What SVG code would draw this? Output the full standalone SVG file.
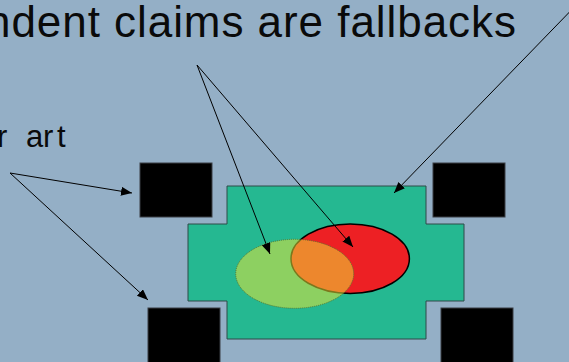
<svg xmlns="http://www.w3.org/2000/svg" width="569" height="362" viewBox="0 0 569 362">
  <style>
    .label { font-family: "Liberation Sans", Arial, sans-serif; fill: #0a0a0a; }
    .block { fill: #000000; stroke: #3a3f44; stroke-width: 1; }
    .conn { stroke: #000000; stroke-width: 1; fill: none; marker-end: url(#arrow); }
  </style>
  <defs>
    <marker id="arrow" markerUnits="userSpaceOnUse" markerWidth="12" markerHeight="10" refX="11" refY="4.5" orient="auto">
      <path d="M0,0 L11,4.5 L0,9 Z" fill="#000000"/>
    </marker>
  </defs>
  <rect x="0" y="0" width="569" height="362" fill="#94afc6"/>

  <g id="title-text">
    <text class="label" x="-14" y="37" font-size="44" textLength="530" lengthAdjust="spacing">ndent claims are fallbacks</text>
  </g>
  <g id="prior-art-text">
    <text class="label" x="-3 9 26 43 57" y="147" font-size="31">r art</text>
  </g>

  <g id="claim-area">
    <polygon points="227,186 426,186 426,224 464,224 464,301 426,301 426,339 227,339 227,301 188,301 188,224 227,224" fill="#25b891" stroke="#2f4a48" stroke-width="1"/>
  </g>

  <g id="prior-art-tl"><rect class="block" x="140" y="163" width="72" height="54"/></g>
  <g id="prior-art-tr"><rect class="block" x="433" y="163" width="72" height="54"/></g>
  <g id="prior-art-bl"><rect class="block" x="148" y="308" width="72" height="60"/></g>
  <g id="prior-art-br"><rect class="block" x="441" y="308" width="72" height="60"/></g>

  <g id="red-claim">
    <ellipse cx="350.2" cy="258.7" rx="59.2" ry="34.7" fill="#ed2024" stroke="#000000" stroke-width="1.5"/>
  </g>
  <g id="green-claim">
    <ellipse cx="294.7" cy="273.8" rx="59" ry="34.5" fill="#eee636" fill-opacity="0.52" stroke="#5a7a30" stroke-width="1" stroke-dasharray="1,1"/>
  </g>

  <g id="connectors">
    <line class="conn" x1="197" y1="65" x2="270" y2="254"/>
    <line class="conn" x1="197" y1="65" x2="353" y2="247"/>
    <line class="conn" x1="10" y1="173" x2="132" y2="193"/>
    <line class="conn" x1="10" y1="173" x2="148" y2="300"/>
    <line class="conn" x1="585" y1="-4" x2="394" y2="193"/>
  </g>
</svg>
